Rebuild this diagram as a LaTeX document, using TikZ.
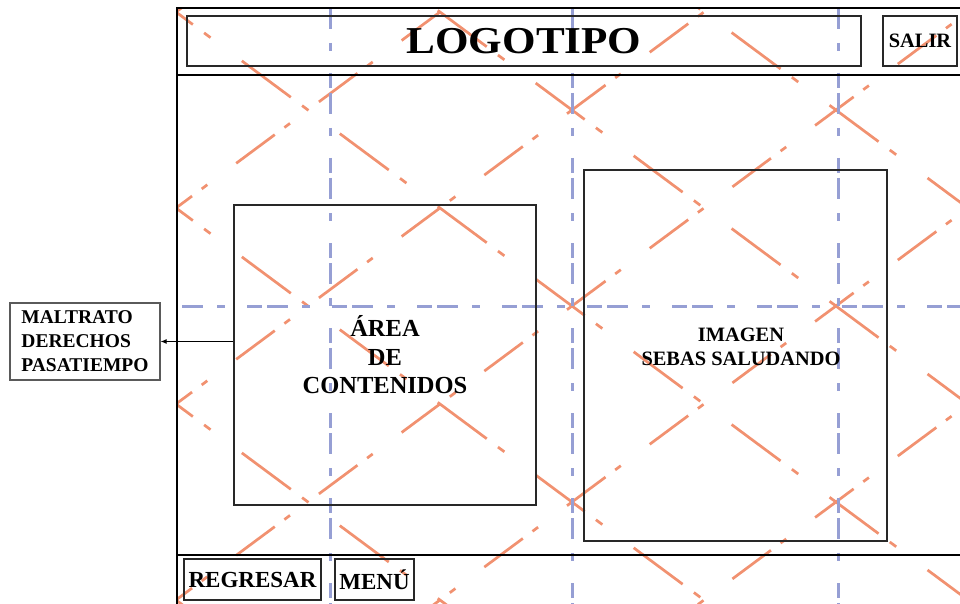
\documentclass[tikz,border=0pt]{standalone}
\usepackage{fontspec}
\setmainfont{Liberation Serif}
\usetikzlibrary{arrows.meta}
\definecolor{guideColor}{RGB}{150,159,212}
\definecolor{diagColor}{RGB}{241,145,112}
\definecolor{lineColor}{RGB}{40,40,40}
\definecolor{tagColor}{RGB}{90,90,90}
\newcommand{\logofont}{\fontsize{38}{40}\selectfont\bfseries}
\newcommand{\btnfont}{\fontsize{23}{26}\selectfont\bfseries}
\newcommand{\contentfont}{\fontsize{24.5}{28.5}\selectfont\bfseries}
\newcommand{\capfont}{\fontsize{20.4}{24}\selectfont\bfseries}
\newcommand{\tagfont}{\fontsize{19.5}{24}\selectfont\bfseries}

\begin{document}
\begin{tikzpicture}[x=1pt, y=-1pt,
    box/.style={draw=lineColor, line width=1.3pt, inner sep=0pt, align=center},
    frame/.style={draw=black, line width=1.4pt},
    guide/.style={guideColor, line width=3pt, dash pattern=on 21pt off 14pt on 8pt off 22pt on 15pt off 5pt},
    diagdown/.style={diagColor, line width=2.7pt, dash pattern=on 61pt off 14pt on 8pt off 39pt, dash phase=40pt},
    diagup/.style={diagColor, line width=2.7pt, dash pattern=on 48pt off 12pt on 7pt off 36pt, dash phase=28pt},
    arr/.style={-{Latex[length=6pt,width=5pt]}, line width=0.9pt}
  ]
  \useasboundingbox (0,0) rectangle (960,604);
  \begin{scope}
    \clip (0,0) rectangle (960,604);
    % diagonal grid
    \begin{scope}
      \clip (177,8) rectangle (960,604);
      \foreach \k in {-2,...,3}
        \draw[diagdown] (176,{12+196*\k}) -- ++(800,594);
      \foreach \k in {0,...,5}
        \draw[diagup] (176,{12+196*\k}) -- ++(800,-594);
    \end{scope}
    % guides
    \foreach \x in {330,572,838}
      \draw[guide] (\x,8) -- (\x,604);
    \draw[guide, dash phase=80pt] (177,306) -- (960,306);
    % page frame
    \draw[frame] (177,8) rectangle (970,615);
    \draw[frame] (177,75) -- (970,75);
    \draw[frame] (177,555) -- (970,555);

    \node[box, minimum width=674pt, minimum height=50pt, font=\logofont] (logo) at (524,41) {\scalebox{1.135}[1]{LOGOTIPO}};
    \node[box, minimum width=74pt, minimum height=50pt, font=\capfont] (salir) at (920,41) {SALIR};
    \node[box, minimum width=302pt, minimum height=300pt, font=\contentfont] (content) at (385,355) {ÁREA\\DE\\CONTENIDOS};
    \node[box, minimum width=303pt, minimum height=371pt] (image) at (735.5,355.5) {};
    \node[font=\capfont, align=center, inner sep=0pt] (imagecap) at (741,347) {IMAGEN\\SEBAS SALUDANDO};
    \node[box, draw=tagColor, minimum width=150pt, minimum height=77pt, align=left, font=\tagfont] (tags) at (85,341.5) {MALTRATO\\DERECHOS\\PASATIEMPO};
    \node[box, minimum width=137pt, minimum height=41pt, font=\btnfont] (back) at (252.5,579.5) {REGRESAR};
    \node[box, minimum width=79pt, minimum height=41pt, font=\btnfont] (menu) at (374.5,579.5) {MENÚ};

    \draw[arr] (content.west |- tags.east) -- (tags.east);
  \end{scope}
\end{tikzpicture}
\end{document}
